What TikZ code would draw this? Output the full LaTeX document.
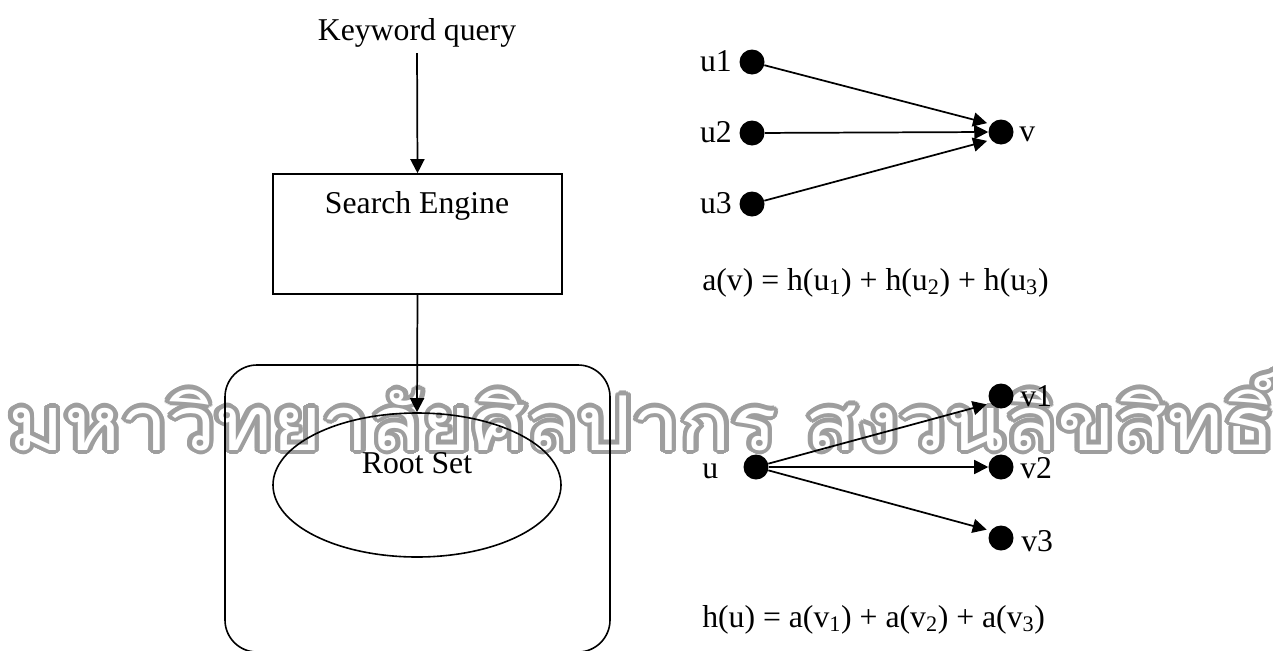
\documentclass[tikz,border=0pt]{standalone}
\usepackage{fontspec}
\usepackage[copies]{contour}
\setmainfont{Liberation Serif}
\newfontfamily\thaifont[Script=Thai]{Loma}
\usetikzlibrary{arrows.meta,shapes.geometric}

\contournumber{16}
\contourlength{0.55pt}

\tikzset{
  txt/.style={inner sep=0pt, font=\fontsize{23.8}{28}\selectfont},
  dot/.style={circle, fill=black, inner sep=0pt, minimum size=18.75pt},
  arr/.style={line width=1.3pt, -{Triangle[length=10.5pt,width=10.5pt]}},
  frame/.style={draw, line width=1.2pt, inner sep=0pt},
}

\begin{document}
\begin{tikzpicture}[x=0.75pt, y=-0.75pt]
\useasboundingbox (0,0) rectangle (1273,650);

% hollow grey lettering across the middle, behind the drawing
\node (wm) [anchor=base west, inner sep=0pt] at (8,450)
  {\resizebox{950pt}{60pt}{\thaifont\contour{black!38}{\color{white}มหาวิทยาลัยศิลปากร สงวนลิขสิทธิ์}}};

% ---- left: query pipeline ----
\node (kq) [txt, anchor=base] at (417,40) {Keyword query};
\node (se) [frame, minimum width=216.75pt, minimum height=90pt] at (417.5,234) {};
\node (setext) [txt, anchor=base] at (417,213) {Search Engine};
\node (base) [frame, rounded corners=24pt, minimum width=288.75pt, minimum height=215.25pt] at (417.5,508.5) {};
\node (rs) [frame, ellipse, minimum width=216pt, minimum height=108pt] at (417,485) {};
\node (rstext) [txt, anchor=base] at (417,473) {Root Set};

\draw[arr, shorten <=4.5pt] (kq.south) -- (se.north);
\draw[arr] (se.south) -- (rs.north);

% ---- right top: authority of v ----
\node (u1) [dot] at (752,62) {};
\node (u2) [dot] at (752,133) {};
\node (u3) [dot] at (752,204) {};
\node (v)  [dot] at (1001,132) {};
\node (lu1) [txt, anchor=base east] at (732,71) {u1};
\node (lu2) [txt, anchor=base east] at (732,142) {u2};
\node (lu3) [txt, anchor=base east] at (732,213) {u3};
\node (lv)  [txt, anchor=base west] at (1019,141) {v};
\draw[arr, shorten >=3pt] (u1) -- (v.142);
\draw[arr] (u2) -- (v.west);
\draw[arr, shorten >=3pt] (u3) -- (v.218);
\node (fa) [txt, anchor=base west] at (702,290)
  {a(v) = h(u\textsubscript{1}) + h(u\textsubscript{2}) + h(u\textsubscript{3})};

% ---- right bottom: hub score of u ----
\node (u)  [dot] at (756,467) {};
\node (v1) [dot] at (1001,396) {};
\node (v2) [dot] at (1001,467) {};
\node (v3) [dot] at (1001,538) {};
\node (lu)  [txt, anchor=base west] at (702,478) {u};
\node (lv1) [txt, anchor=base west] at (1020,406) {v1};
\node (lv2) [txt, anchor=base west] at (1020,478) {v2};
\node (lv3) [txt, anchor=base west] at (1021,551) {v3};
\draw[arr, shorten >=3pt] (u) -- (v1.215);
\draw[arr] (u) -- (v2.west);
\draw[arr, shorten >=3pt] (u) -- (v3.145);
\node (fh) [txt, anchor=base west] at (702,627)
  {h(u) = a(v\textsubscript{1}) + a(v\textsubscript{2}) + a(v\textsubscript{3})};
\end{tikzpicture}
\end{document}
